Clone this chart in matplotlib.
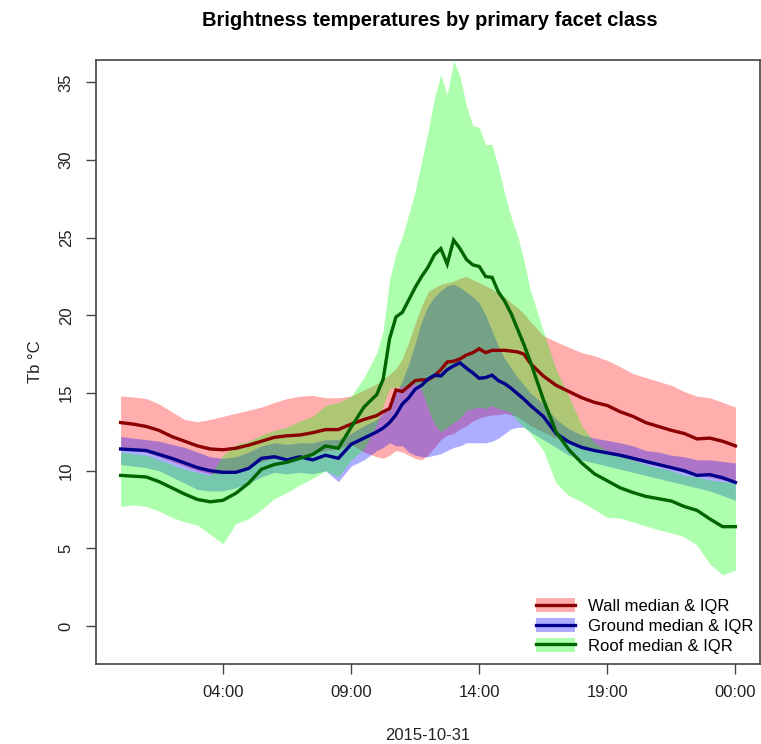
"""Brightness temperatures by primary facet class (median & IQR bands)."""
import matplotlib
matplotlib.use("Agg")
import matplotlib.pyplot as plt
from matplotlib.lines import Line2D
from matplotlib.patches import Patch

plt.rcParams["font.family"] = ["Liberation Sans", "DejaVu Sans"]

# hours since 2015-10-31 00:00
HOURS = [0, 0.5, 1, 1.5, 2, 2.5, 3, 3.5, 4, 4.5, 5, 5.5, 6, 6.5, 7, 7.5, 8, 8.5, 9, 9.5,
         10, 10.25, 10.5, 10.75, 11, 11.25, 11.5, 11.75, 12, 12.25, 12.5, 12.75, 13,
         13.25, 13.5, 13.75, 14, 14.25, 14.5, 14.75, 15, 15.25, 15.5, 15.75, 16,
         16.5, 17, 17.5, 18, 18.5, 19, 19.5, 20, 20.5, 21, 21.5, 22, 22.5, 23, 23.5, 24]

WALL_MED = [13.1, 13.0, 12.85, 12.6, 12.2, 11.9, 11.6, 11.4, 11.35, 11.45, 11.65, 11.9, 12.15, 12.25, 12.3, 12.45, 12.65, 12.65, 13.0, 13.3,
            13.55, 13.8, 14.0, 15.2, 15.1, 15.45, 15.8, 15.85, 15.85, 16.1, 16.5, 17.0, 17.05,
            17.2, 17.45, 17.6, 17.85, 17.6, 17.75, 17.75, 17.75, 17.7, 17.65, 17.5, 16.9,
            16.1, 15.5, 15.1, 14.7, 14.4, 14.2, 13.8, 13.5, 13.1, 12.85, 12.6, 12.4, 12.05, 12.1, 11.9, 11.6]
WALL_Q25 = [11.4, 11.3, 11.2, 10.9, 10.6, 10.3, 10.0, 9.8, 9.8, 10.0, 10.3, 10.6, 10.8, 10.9, 11.0, 11.1, 11.3, 11.4, 11.7, 11.2,
            10.9, 10.8, 11.0, 11.3, 11.2, 11.0, 10.8, 10.7, 11.0, 11.5, 12.0, 12.3, 12.4,
            12.7, 12.9, 13.2, 13.4, 13.5, 13.6, 13.6, 13.7, 13.6, 13.5, 13.2, 12.9,
            12.5, 12.1, 11.8, 11.5, 11.3, 11.1, 10.9, 10.7, 10.5, 10.3, 10.1, 9.9, 9.7, 9.6, 9.4, 9.3]
WALL_Q75 = [14.8, 14.75, 14.65, 14.3, 13.8, 13.3, 13.15, 13.3, 13.5, 13.7, 13.9, 14.1, 14.4, 14.65, 14.8, 14.85, 14.7, 14.7, 14.8, 15.2,
            15.6, 15.9, 16.2, 16.6, 17.2, 18.3, 19.5, 20.6, 21.5, 21.8, 22.0, 22.1, 22.2,
            22.4, 22.5, 22.3, 22.1, 21.9, 21.7, 21.4, 21.2, 20.8, 20.5, 20.1, 19.6,
            18.7, 18.3, 17.95, 17.6, 17.4, 17.1, 16.7, 16.25, 16.0, 15.75, 15.5, 15.1, 14.8, 14.7, 14.4, 14.1]

GROUND_MED = [11.4, 11.35, 11.3, 11.05, 10.8, 10.5, 10.2, 10.0, 9.9, 9.9, 10.15, 10.8, 10.9, 10.7, 10.9, 10.7, 11.0, 10.8, 11.7, 12.1,
              12.5, 12.75, 13.1, 13.6, 14.3, 14.7, 15.25, 15.5, 15.9, 16.15, 16.1, 16.5, 16.75,
              16.95, 16.6, 16.3, 15.95, 16.0, 16.15, 15.8, 15.6, 15.3, 14.95, 14.6, 14.2,
              13.5, 12.4, 11.85, 11.5, 11.3, 11.15, 11.0, 10.8, 10.6, 10.4, 10.2, 10.0, 9.7, 9.75, 9.55, 9.25]
GROUND_Q25 = [10.4, 10.3, 10.2, 10.0, 9.6, 9.2, 8.8, 8.7, 8.7, 8.9, 9.2, 9.6, 9.9, 9.8, 9.9, 9.8, 10.0, 9.3, 10.3, 10.7,
              11.3, 11.5, 11.8, 11.6, 11.6, 11.2, 11.0, 10.9, 10.9, 11.0, 11.1, 11.3, 11.5,
              11.6, 11.8, 11.8, 11.8, 11.8, 11.9, 12.1, 12.4, 12.7, 12.8, 12.8, 12.5,
              12.0, 11.5, 11.0, 10.7, 10.5, 10.3, 10.1, 9.9, 9.7, 9.5, 9.3, 9.1, 8.9, 8.7, 8.4, 8.1]
GROUND_Q75 = [12.2, 12.1, 12.0, 11.9, 11.7, 11.5, 11.2, 10.9, 10.8, 10.9, 11.2, 11.6, 11.8, 11.7, 11.8, 11.8, 12.0, 12.0, 12.4, 12.9,
              13.3, 13.7, 14.3, 15.0, 15.8, 16.9, 18.2, 19.6, 20.6, 21.2, 21.6, 21.9, 22.0,
              21.8, 21.5, 21.2, 20.8, 20.0, 19.0, 18.0, 17.2, 16.6, 16.0, 15.5, 15.0,
              14.3, 13.3, 12.7, 12.3, 12.1, 11.95, 11.8, 11.6, 11.3, 11.2, 11.0, 10.9, 10.7, 10.7, 10.6, 10.5]

ROOF_MED = [9.7, 9.65, 9.6, 9.3, 8.9, 8.5, 8.15, 8.0, 8.1, 8.55, 9.2, 10.1, 10.4, 10.55, 10.8, 11.05, 11.6, 11.45, 12.8, 14.1,
            14.9, 15.9, 18.5, 19.9, 20.2, 21.0, 21.8, 22.5, 23.1, 23.9, 24.3, 23.3, 24.85,
            24.3, 23.6, 23.25, 23.15, 22.5, 22.45, 21.5, 20.9, 20.1, 19.1, 18.1, 17.0,
            14.6, 12.5, 11.35, 10.5, 9.8, 9.35, 8.9, 8.6, 8.35, 8.2, 8.05, 7.7, 7.45, 6.9, 6.4, 6.4]
ROOF_Q25 = [7.7, 7.8, 7.7, 7.4, 7.0, 6.7, 6.5, 5.9, 5.3, 6.6, 6.9, 7.5, 8.2, 8.6, 9.1, 9.5, 10.0, 9.6, 10.7, 11.4,
            13.0, 14.2, 15.3, 15.4, 15.4, 15.5, 15.6, 15.2, 14.0, 13.0, 12.5, 12.8, 13.1,
            13.4, 13.9, 14.0, 14.1, 14.0, 14.2, 14.0, 13.9, 13.7, 13.2, 12.8, 12.4,
            11.3, 9.2, 8.4, 8.0, 7.5, 7.0, 6.95, 6.7, 6.45, 6.2, 6.0, 5.75, 5.2, 4.0, 3.3, 3.6]
ROOF_Q75 = [11.2, 11.1, 11.0, 10.7, 10.4, 10.1, 9.9, 9.7, 11.0, 11.7, 11.9, 12.3, 12.6, 12.8, 13.2, 13.5, 14.2, 14.4, 14.8, 16.0,
            17.6, 19.0, 22.3, 24.0, 25.1, 26.5, 28.0, 29.9, 31.8, 34.0, 35.5, 34.2, 36.4,
            35.4, 33.5, 32.2, 32.1, 31.0, 31.0, 29.5, 27.8, 26.3, 25.1, 23.5, 21.6,
            19.0, 16.5, 14.8, 12.9, 11.8, 11.3, 11.0, 10.7, 10.4, 10.2, 10.0, 9.7, 9.6, 9.4, 9.3, 9.2]

X_TICKS = [4, 9, 14, 19, 24]
X_TICK_LABELS = ["04:00", "09:00", "14:00", "19:00", "00:00"]
Y_TICKS = [0, 5, 10, 15, 20, 25, 30, 35]

SERIES = [
    ("Wall median & IQR", WALL_MED, WALL_Q25, WALL_Q75, "#FF0000", "#8B0000"),
    ("Ground median & IQR", GROUND_MED, GROUND_Q25, GROUND_Q75, "#0000FF", "#00008B"),
    ("Roof median & IQR", ROOF_MED, ROOF_Q25, ROOF_Q75, "#00FF00", "#006400"),
]
BAND_ALPHA = 0.32
TEXT_SIZE = 12

fig = plt.figure(figsize=(7.61, 7.44), dpi=100)
ax = fig.add_axes([96 / 761, 80 / 744, 664 / 761, 604 / 744])

for label, med, q25, q75, fill, line in SERIES:
    ax.fill_between(HOURS, q25, q75, color=fill, alpha=BAND_ALPHA, linewidth=0)
for label, med, q25, q75, fill, line in SERIES:
    ax.plot(HOURS, med, color=line, linewidth=2.4, solid_joinstyle="miter")

ax.set_xlim(-0.96, 24.96)
ax.set_ylim(-2.44, 36.44)
ax.set_xticks(X_TICKS)
ax.set_xticklabels(X_TICK_LABELS)
ax.set_yticks(Y_TICKS)
ax.set_yticklabels([str(v) for v in Y_TICKS], rotation=90, va="center")
ax.tick_params(axis="both", direction="out", length=7, width=1, color="#444444",
               labelsize=TEXT_SIZE, labelcolor="#222222")
ax.tick_params(axis="x", pad=8)
ax.tick_params(axis="y", pad=9)
for spine in ax.spines.values():
    spine.set_color("#444444")
    spine.set_linewidth(1.2)

handles = []
labels = []
for label, med, q25, q75, fill, line in SERIES:
    patch = Patch(facecolor=fill, alpha=BAND_ALPHA, edgecolor="none")
    ln = Line2D([], [], color=line, linewidth=2.4)
    handles.append((patch, ln))
    labels.append(label)
ax.legend(handles, labels, loc="lower right", bbox_to_anchor=(1.0, 0.006), frameon=False,
          fontsize=TEXT_SIZE, handlelength=2.3, handleheight=0.9, handletextpad=0.8,
          labelspacing=0.25, borderaxespad=0.0, borderpad=0.4)

fig.text(430 / 761, 1 - 20 / 744, "Brightness temperatures by primary facet class",
         ha="center", va="center", fontsize=14.5, fontweight="bold")
fig.text(428 / 761, 1 - 735 / 744, "2015-10-31", ha="center", va="center", fontsize=TEXT_SIZE,
         color="#222222")
fig.text(35 / 761, 1 - 362 / 744, "Tb °C", ha="center", va="center", rotation=90,
         fontsize=TEXT_SIZE, color="#222222")

fig.savefig("out.png", dpi=100)
